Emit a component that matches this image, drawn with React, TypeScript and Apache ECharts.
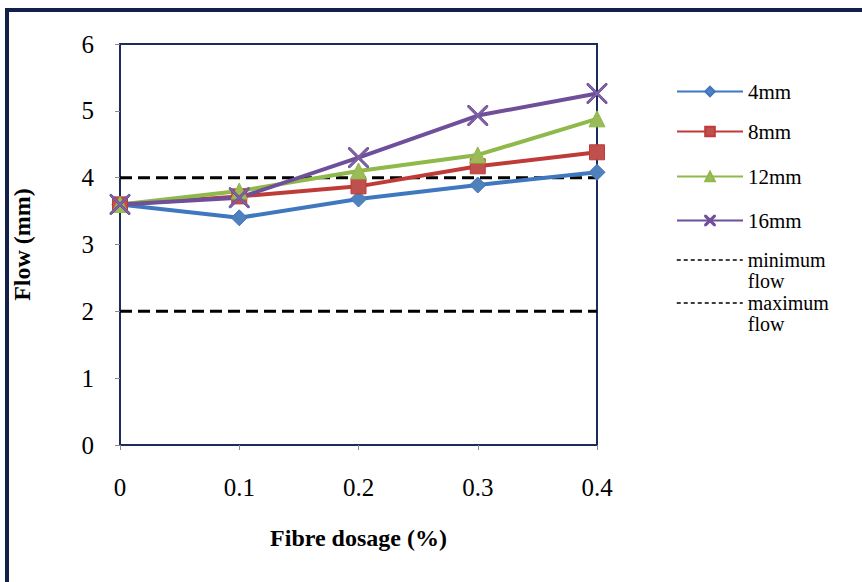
import React, { useEffect, useRef } from "react";
import * as echarts from "echarts";

// Fibre dosage (%) on the x axis
const dosages = ["0", "0.1", "0.2", "0.3", "0.4"];

// Flow (mm) per fibre length
const flow4mm = [3.6, 3.4, 3.68, 3.89, 4.08];
const flow8mm = [3.6, 3.72, 3.87, 4.17, 4.38];
const flow12mm = [3.6, 3.8, 4.1, 4.34, 4.88];
const flow16mm = [3.6, 3.7, 4.3, 4.93, 5.26];

// Flow limits
const minimumFlow = [2, 2, 2, 2, 2];
const maximumFlow = [4, 4, 4, 4, 4];

const FONT = "'Liberation Serif', 'Times New Roman', serif";
const X_MARK =
  "path://M0,0 L1.6,0 L10,8.4 L18.4,0 L20,0 L20,1.6 L11.6,10 L20,18.4 L20,20 L18.4,20 L10,11.6 L1.6,20 L0,20 L0,18.4 L8.4,10 L0,1.6 Z";

export default function App() {
  const ref = useRef<HTMLDivElement>(null);

  useEffect(() => {
    if (!ref.current) return;
    const chart = echarts.init(ref.current, undefined, { renderer: "svg" });

    const lineSeries = (
      name: string,
      data: number[],
      line: string,
      fill: string,
      symbol: string,
      size: number
    ) => ({
      name,
      type: "line",
      data,
      symbol,
      symbolSize: size,
      lineStyle: { color: line, width: 4 },
      itemStyle: { color: fill, borderColor: line, borderWidth: 1 },
      z: 3,
    });

    const seriesLegend = (name: string, top: number) => ({
      data: [name],
      left: 676,
      top,
      orient: "vertical",
      itemWidth: 66,
      itemHeight: 12,
      padding: 0,
      textStyle: { fontFamily: FONT, fontSize: 21, color: "#000" },
      lineStyle: { width: 2 },
    });

    // two-line limit labels: a blank first line keeps the icon beside the first word
    const limitLegend = (name: string, top: number) => ({
      data: [name],
      left: 676,
      top,
      orient: "vertical",
      itemWidth: 66,
      itemHeight: 12,
      padding: 0,
      formatter: (n: string) => "\u00a0\n" + n,
      textStyle: { fontFamily: FONT, fontSize: 20, color: "#000", lineHeight: 21 },
      lineStyle: { width: 1.5, type: [4, 3], color: "#000" },
      itemStyle: { color: "rgba(0,0,0,0)", borderColor: "rgba(0,0,0,0)", borderWidth: 0 },
    });

    chart.setOption({
      animation: false,
      backgroundColor: "#fff",
      graphic: [
        {
          type: "rect",
          shape: { x: 7, y: 10, width: 900, height: 700 },
          style: { fill: "none", stroke: "#14204a", lineWidth: 4 },
          silent: true,
        },
      ],
      grid: {
        left: 120,
        top: 44,
        right: 265,
        bottom: 137,
        show: true,
        borderColor: "#1c2b5c",
        borderWidth: 2,
        backgroundColor: "#fff",
      },
      legend: [
        seriesLegend("4mm", 81),
        seriesLegend("8mm", 121),
        seriesLegend("12mm", 166),
        seriesLegend("16mm", 210),
        limitLegend("minimum\nflow", 228.5),
        limitLegend("maximum\nflow", 271.5),
      ],
      xAxis: {
        type: "category",
        data: dosages,
        boundaryGap: false,
        name: "Fibre dosage (%)",
        nameLocation: "middle",
        nameGap: 81,
        nameTextStyle: {
          fontFamily: FONT,
          fontSize: 24,
          fontWeight: "bold",
          color: "#000",
        },
        axisLine: { show: true, lineStyle: { color: "#1c2b5c", width: 2 } },
        axisTick: {
          show: true,
          alignWithLabel: true,
          length: 5,
          lineStyle: { color: "#8a8a8a" },
        },
        axisLabel: {
          fontFamily: FONT,
          fontSize: 25,
          color: "#000",
          margin: 30,
        },
        splitLine: { show: false },
      },
      yAxis: {
        type: "value",
        min: 0,
        max: 6,
        interval: 1,
        name: "Flow (mm)",
        nameLocation: "middle",
        nameGap: 86,
        nameRotate: 90,
        nameTextStyle: {
          fontFamily: FONT,
          fontSize: 24,
          fontWeight: "bold",
          color: "#000",
        },
        axisLine: { show: true, lineStyle: { color: "#1c2b5c", width: 2 } },
        axisTick: { show: true, length: 5, lineStyle: { color: "#8a8a8a" } },
        axisLabel: {
          fontFamily: FONT,
          fontSize: 25,
          color: "#000",
          margin: 26,
        },
        splitLine: { show: false },
      },
      series: [
        {
          name: "minimum\nflow",
          type: "line",
          data: minimumFlow,
          symbol: "none",
          lineStyle: { color: "#000", width: 3, type: [12, 6] },
          itemStyle: { color: "#000" },
          z: 2,
        },
        {
          name: "maximum\nflow",
          type: "line",
          data: maximumFlow,
          symbol: "none",
          lineStyle: { color: "#000", width: 3, type: [12, 6] },
          itemStyle: { color: "#000" },
          z: 2,
        },
        lineSeries("4mm", flow4mm, "#3f78bf", "#4F81BD", "diamond", 16),
        lineSeries("8mm", flow8mm, "#be3b38", "#C0504D", "rect", 15),
        lineSeries("12mm", flow12mm, "#8fb94a", "#9BBB59", "triangle", 16),
        lineSeries("16mm", flow16mm, "#6f4f9a", "#7e62a3", X_MARK, 20),
      ],
    });

    return () => chart.dispose();
  }, []);

  return (
    <div
      ref={ref}
      style={{ position: "fixed", left: 0, top: 0, width: 862, height: 582 }}
    />
  );
}
